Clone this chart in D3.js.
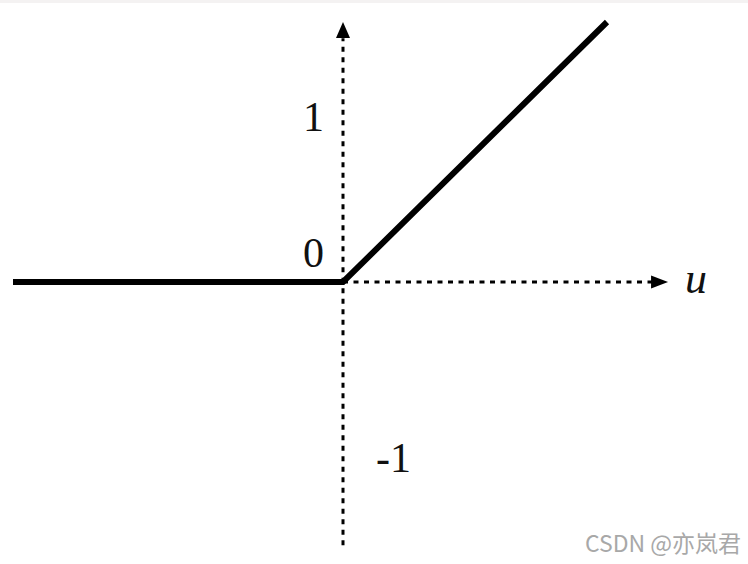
<!DOCTYPE html>
<html><head><meta charset="utf-8">
<script src="https://cdn.jsdelivr.net/npm/d3@7"></script>
<style>html,body{margin:0;padding:0;background:#fff;}svg{display:block;}</style>
</head><body>
<script>
// ReLU: f(u) = max(0, u)
const uValues = [-2.0, 0, 1.6];
const fValues = [0, 0, 1.6];
const tickLabels = [{text:"1", v:1}, {text:"0", v:0}, {text:"-1", v:-1}];
const axisLabel = "u";
const watermark = "CSDN @亦岚君";

const W = 748, H = 564;
const svg = d3.select("body").append("svg").attr("width", W).attr("height", H);
svg.append("rect").attr("width", W).attr("height", H).attr("fill", "#fff");
svg.append("rect").attr("width", W).attr("height", 3).attr("fill", "#f4f2f2");

const x = d3.scaleLinear().domain([-2.0, 1.6]).range([13, 607]);
const y = d3.scaleLinear().domain([0, 1.6]).range([282, 22]);

// dashed axes
const dash = "5,5.5";
svg.append("line").attr("x1", x(0)).attr("x2", x(0))
  .attr("y1", y(-1.62)).attr("y2", y(1.5))
  .attr("stroke", "#000").attr("stroke-width", 3).attr("stroke-dasharray", dash);
svg.append("line").attr("x1", x(0)).attr("x2", x(1.89))
  .attr("y1", y(0)).attr("y2", y(0))
  .attr("stroke", "#000").attr("stroke-width", 3).attr("stroke-dasharray", dash);

// arrowheads
const ax = x(0), ayTip = y(1.6);
svg.append("path")
  .attr("d", `M${ax},${ayTip} L${ax-7},${ayTip+16} L${ax+7},${ayTip+16} Z`)
  .attr("fill", "#000");
const hxTip = x(1.97), hy = y(0);
svg.append("path")
  .attr("d", `M${hxTip},${hy} L${hxTip-17},${hy-6.5} L${hxTip-17},${hy+6.5} Z`)
  .attr("fill", "#000");

// function line
const pts = uValues.map((u, i) => [u, fValues[i]]);
svg.append("path").datum(pts)
  .attr("d", d3.line().x(d => x(d[0])).y(d => y(d[1])))
  .attr("fill", "none").attr("stroke", "#000").attr("stroke-width", 6)
  .attr("stroke-linejoin", "miter");

// tick labels
const serif = "'Liberation Serif', 'DejaVu Serif', serif";
const labelPos = {
  "1": {dx: -40, dy: 11},
  "0": {dx: -40, dy: -15},
  "-1": {dx: 33, dy: 27}
};
svg.selectAll("text.tick").data(tickLabels).enter().append("text")
  .attr("class", "tick")
  .attr("x", d => x(0) + labelPos[d.text].dx)
  .attr("y", d => y(d.v) + labelPos[d.text].dy)
  .attr("font-family", serif).attr("font-size", 42)
  .attr("fill", "#111")
  .text(d => d.text);

svg.append("text")
  .attr("x", x(1.97) + 17).attr("y", y(0) + 11)
  .attr("font-family", serif).attr("font-style", "italic").attr("font-size", 44)
  .attr("fill", "#111").text(axisLabel);

svg.append("text")
  .attr("x", 741).attr("y", 552).attr("text-anchor", "end")
  .attr("font-family", "'Noto Sans CJK SC', 'Noto Sans', sans-serif")
  .attr("font-size", 23).attr("fill", "#a8a8a8")
  .text(watermark);
</script>
</body></html>
